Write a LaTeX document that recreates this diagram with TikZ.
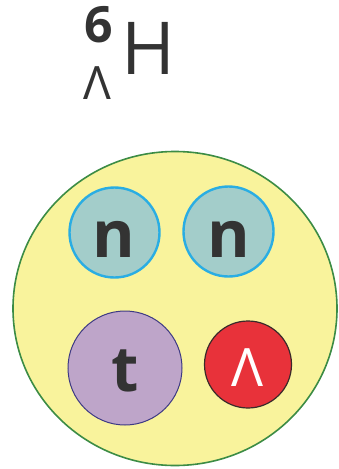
\documentclass[tikz,border=0pt]{standalone}
\usepackage{fontspec}
\setmainfont{Open Sans}
\definecolor{nucyel}{HTML}{F9F39C}
\definecolor{nucgreen}{HTML}{3C8C45}
\definecolor{nfill}{HTML}{A3CDCA}
\definecolor{nedge}{HTML}{2AADE3}
\definecolor{tfill}{HTML}{BEA5C9}
\definecolor{tedge}{HTML}{3E3A84}
\definecolor{lfill}{HTML}{E8323A}
\definecolor{ledge}{HTML}{3A2A2A}
\definecolor{txt}{HTML}{333333}
\tikzset{
  nucleus/.style={ellipse, draw=nucgreen, line width=1.6pt, fill=nucyel, minimum width=324pt, minimum height=314pt, inner sep=0},
  neutron/.style={circle, draw=nedge, line width=2.4pt, fill=nfill, minimum size=90pt, inner sep=0},
  triton/.style={circle, draw=tedge, line width=1pt, fill=tfill, minimum size=114pt, inner sep=0},
  lambda/.style={circle, draw=ledge, line width=1.2pt, fill=lfill, minimum size=87pt, inner sep=0},
  lbl/.style={inner sep=0, text=txt}
}
\usetikzlibrary{shapes.geometric}
\begin{document}
\begin{tikzpicture}[x=1pt,y=-1pt]
\useasboundingbox (0,0) rectangle (339,469);
\node[nucleus] (nuc) at (175,308.5) {};
\node[neutron] (n1) at (114.5,232.5) {};
\node[neutron] (n2) at (228.5,231.5) {};
\node[triton] (t) at (125,368) {};
\node[lambda] (l) at (248,364.5) {};
\node[lbl, font=\bfseries\fontsize{65}{65}\selectfont] (n1l) at (114,239.5) {n};
\node[lbl, font=\bfseries\fontsize{65}{65}\selectfont] (n2l) at (228.5,239.5) {n};
\node[lbl, font=\bfseries\fontsize{63}{63}\selectfont] (tl) at (125.5,370.5) {t};
\node[lbl, text=white, font=\fontsize{53}{53}\selectfont] (ll) at (247.5,368) {Λ};
\node[lbl, font=\bfseries\fontsize{50}{50}\selectfont] (six) at (99,25) {6};
\node[lbl, font=\fontsize{73}{73}\selectfont] (H) at (148,48) {H};
\node[lbl, font=\fontsize{46}{46}\selectfont] (Lam) at (97.5,83.5) {Λ};
\end{tikzpicture}
\end{document}
